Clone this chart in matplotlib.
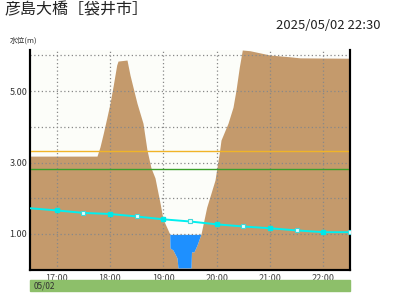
import numpy as np
import pandas as pd
import matplotlib
matplotlib.use('Agg')
import matplotlib.pyplot as plt
from matplotlib.dates import DateFormatter, HourLocator

plt.rcParams['font.family'] = ['Noto Sans CJK JP', 'DejaVu Sans']

# river cross-section (distance m, height m)
dist = [0, 33.5, 35, 36.65, 38.35, 40, 41.65, 43.35, 44, 48.5, 50, 51.5, 53.5, 56.5,
        58.5, 60.5, 62.5, 65, 66.5, 69.85, 70, 71.5, 73.5, 74, 80.5, 80.75, 82, 83.5,
        85.5, 88.35, 92.5, 94.65, 95.5, 99, 101.5, 103, 104.65, 106.15, 110, 115, 120,
        130, 135, 160]
bed = [3.18, 3.18, 3.44, 3.82, 4.24, 4.66, 5.17, 5.73, 5.84, 5.87, 5.45, 5.11, 4.66, 4.10,
       3.35, 2.85, 2.57, 1.87, 1.42, 1.00, 0.61, 0.55, 0.33, 0.05, 0.05, 0.50, 0.50, 0.69,
       1.00, 1.75, 2.51, 3.27, 3.63, 4.10, 4.55, 5.03, 5.67, 6.15, 6.13, 6.07, 6.01,
       5.96, 5.93, 5.92]
current_level = 0.99

# water level series
times = pd.date_range('2025-05-02 16:30', '2025-05-02 22:30', freq='30min')
level = [1.72, 1.66, 1.59, 1.56, 1.49, 1.41, 1.35, 1.27, 1.21, 1.16, 1.10, 1.05, 1.05]

warn_level = 3.32
alert_level = 2.81

fig = plt.figure(figsize=(4, 3), dpi=100)
ax = fig.add_axes([0.075, 0.101, 0.8, 0.7323])
ax.set_facecolor('#fcfdf9')

d = np.array(dist)
b = np.array(bed)
ax.fill_between(d, 0, b, color='#c49a6c', linewidth=0)
ax.fill_between(d, b, current_level, where=b < current_level, interpolate=True,
                color='#1e90ff', linewidth=0)
ax.set_xlim(0, 160)
ax.set_ylim(0, 6.15)
ax.set_xticks([])

# time axis on top of the section
ax2 = ax.twiny()
ax2.xaxis.set_ticks_position('bottom')
ax2.set_xlim(pd.Timestamp('2025-05-02 16:30'), pd.Timestamp('2025-05-02 22:30'))
ax2.xaxis.set_major_locator(HourLocator(interval=1))
ax2.xaxis.set_major_formatter(DateFormatter('%H:%M'))
ax2.grid(True, axis='x', color='#888888', linestyle=(0, (1, 2)), linewidth=0.9)
for y in range(0, 7):
    ax2.axhline(y, color='#888888', linestyle=(0, (1, 2)), linewidth=0.9, zorder=1)

ax2.axhline(warn_level, color='#f0b428', linewidth=1.0, zorder=2)
ax2.axhline(alert_level, color='#3aa02a', linewidth=1.0, zorder=2)

ax2.plot(times, level, color='#00f0f0', linewidth=1.4, zorder=3)
hour = np.array([t.minute == 0 for t in times])
ax2.plot(times[hour], np.array(level)[hour], 's', color='#00e8e8',
         markersize=3.2, zorder=4)
half = np.array([(t.minute == 30) and (i > 0) for i, t in enumerate(times)])
ax2.plot(times[half], np.array(level)[half], 's', markerfacecolor='#e0ffff',
         markeredgecolor='#40d8d8', markersize=3.2, markeredgewidth=0.8, zorder=4)

ax.set_yticks([1, 3, 5])
ax.set_yticklabels(['1.00', '3.00', '5.00'])
ax.tick_params(axis='y', length=0, labelsize=6.5, labelcolor='#333333', pad=2)
ax2.tick_params(axis='x', length=0, labelsize=6.5, labelcolor='#444444', pad=3)

for a in (ax, ax2):
    a.spines['top'].set_visible(False)
    for s in ('left', 'right', 'bottom'):
        a.spines[s].set_linewidth(1.5)
        a.spines[s].set_color('black')

# date band
fig.patches.append(plt.Rectangle((0.075, 0.03), 0.8, 0.037, transform=fig.transFigure,
                                 color='#8dbf6a', zorder=0))
fig.text(0.085, 0.048, '05/02', fontsize=6, color='#333333', va='center')

fig.text(0.012, 0.968, '彦島大橋［袋井市］', fontsize=11.5, va='center', color='#222222')
fig.text(0.95, 0.915, '2025/05/02 22:30', fontsize=9.4, ha='right', va='center', color='#222222')
fig.text(0.025, 0.866, '水位(m)', fontsize=5.5, va='center', color='#333333')

fig.savefig('out.png', dpi=100)
